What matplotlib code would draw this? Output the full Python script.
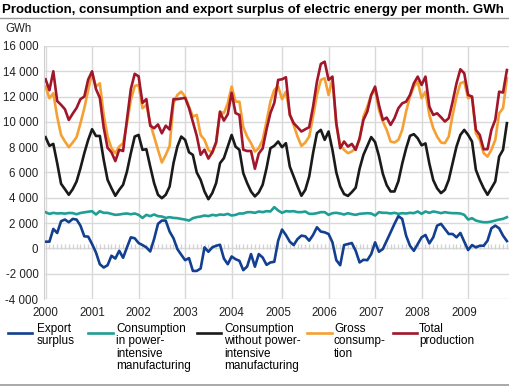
import numpy as np
import matplotlib
matplotlib.use("Agg")
import matplotlib.pyplot as plt
from matplotlib.lines import Line2D
from matplotlib.ticker import FuncFormatter

plt.rcParams['font.family'] = ['Liberation Sans', 'DejaVu Sans']

# monthly values Jan 2000 - Dec 2009, GWh
export_surplus = [
    530, 530, 1540, 1220, 2150, 2280, 2070, 2330, 2280, 1800, 955, 930,
    345, -320, -1250, -1510, -1330, -580, -800, -190, -740, 80, 875, 800,
    425, 265, 80, -240, 740, 1940, 2200, 2200, 1330, 800, -50, -500,
    -930, -770, -1780, -1780, -1590, 80, -265, 80, 210, 290, -800, -1250,
    -640, -850, -980, -1720, -1430, -450, -1445, -450, -720, -1300, -1110, -1060,
    610, 1490, 1060, 530, 265, 740, 1010, 955, 610, 1060, 1670, 1330,
    1270, 1140, 480, -930, -1330, 265, 345, 425, -190, -1110, -900, -930,
    -450, 480, -265, -50, 610, 1270, 1940, 2550, 2330, 1010, 210, -190,
    345, 875, 1060, 400, 875, 1800, 1940, 1540, 1140, 1140, 875, 1220,
    530, -130, 265, 80, 210, 210, 610, 1590, 1800, 1590, 1010, 580,
]
power_intensive = [
    2860, 2730, 2810, 2760, 2780, 2750, 2800, 2790, 2700, 2800, 2850, 2900,
    2940, 2680, 2940, 2810, 2810, 2730, 2650, 2680, 2730, 2760, 2700, 2760,
    2650, 2410, 2650, 2550, 2680, 2550, 2520, 2410, 2470, 2410, 2390, 2330,
    2280, 2200, 2390, 2470, 2520, 2600, 2550, 2650, 2600, 2680, 2650, 2730,
    2600, 2650, 2760, 2760, 2860, 2865, 2812, 2918, 2865, 2944, 2918, 3263,
    2997, 2812, 2944, 2918, 2944, 2865, 2865, 2918, 2732, 2732, 2785, 2865,
    2865, 2653, 2785, 2812, 2759, 2679, 2785, 2706, 2653, 2732, 2759, 2785,
    2759, 2600, 2865, 2812, 2812, 2759, 2812, 2732, 2785, 2759, 2812, 2785,
    2918, 2732, 2918, 2812, 2918, 2865, 2785, 2865, 2812, 2785, 2785, 2759,
    2653, 2281, 2387, 2202, 2122, 2069, 2069, 2122, 2202, 2281, 2334, 2467,
]
without_power_intensive = [
    8790, 8110, 8260, 6740, 5110, 4680, 4240, 4680, 5290, 6340, 7530, 8580,
    9420, 8890, 8890, 7000, 5420, 4760, 4160, 4630, 5030, 6080, 7530, 8840,
    8970, 7790, 7840, 6470, 5160, 4240, 3970, 4240, 4890, 6740, 8050, 8840,
    8580, 7600, 7390, 6000, 5420, 4500, 3890, 4370, 5160, 6740, 7130, 8050,
    8970, 8050, 7790, 5950, 5160, 4500, 4110, 4420, 5030, 6340, 7920, 8110,
    8450, 8000, 8320, 6470, 5680, 4890, 4160, 4630, 5680, 7530, 9110, 9370,
    8580, 9240, 7790, 6000, 4900, 4300, 4150, 4450, 4800, 6300, 7400, 8100,
    8800, 8400, 7300, 5900, 5000, 4500, 4500, 5300, 6700, 7900, 8900, 9030,
    8700, 8150, 8300, 6700, 5400, 4750, 4370, 4630, 5420, 6740, 8050, 8970,
    9370, 8970, 8450, 6210, 5420, 4760, 4240, 4760, 5290, 7260, 7790, 9900,
]
gross_consumption = [
    12790, 11870, 12260, 10420, 8970, 8450, 8000, 8370, 8790, 9890, 11080, 12530,
    13840, 12790, 13050, 10550, 8840, 7920, 7530, 8050, 8320, 9890, 11740, 12840,
    12920, 11080, 11340, 9890, 8840, 7790, 6790, 7390, 8100, 11470, 12130, 12390,
    12000, 11210, 10420, 10550, 8970, 8580, 7790, 7530, 8320, 10820, 10680, 11470,
    12790, 11600, 11600, 9580, 8840, 8320, 7660, 7920, 8580, 10030, 11600, 12530,
    12790, 11790, 12390, 10680, 9760, 8840, 8100, 8370, 8840, 10420, 12130, 13320,
    13450, 12130, 13370, 9760, 8180, 7790, 7530, 7660, 7920, 8580, 10420, 11210,
    12130, 12530, 10950, 10030, 9370, 8450, 8370, 8580, 9370, 10820, 12000, 12790,
    13180, 11870, 12390, 10550, 9500, 8840, 8370, 8320, 8840, 10550, 12000, 13050,
    13180, 11870, 12000, 9100, 8580, 7530, 7260, 7790, 8580, 10680, 11080, 13450,
]
total_production = [
    13370, 12500, 14000, 11650, 11350, 11000, 10150, 10650, 11100, 11800, 12000, 13350,
    14000, 12600, 11900, 9550, 7950, 7600, 6900, 7800, 7700, 10200, 12600, 13800,
    13600, 11500, 11800, 9700, 9500, 9800, 9100, 9700, 9400, 11800, 11800, 11850,
    11900, 11100, 10000, 8900, 7400, 7800, 7100, 7600, 8400, 10800, 10100, 10600,
    12300, 10700, 10550, 7800, 7700, 7700, 6300, 7500, 7900, 9400, 10700, 11500,
    13320, 13370, 13530, 10550, 9900, 9580, 9240, 9420, 9580, 11200, 13180, 14580,
    14760, 13320, 13580, 9900, 7920, 8450, 8050, 8260, 7790, 8710, 10160, 10820,
    12130, 12790, 11340, 10160, 10340, 9760, 10290, 11080, 11470, 11600, 12130, 13050,
    13580, 12920, 13580, 11210, 10550, 10680, 10370, 10030, 10290, 11600, 13050, 14160,
    13840, 12130, 12000, 9370, 8970, 7840, 7840, 9370, 10160, 12390, 12320, 14100,
]
years = [str(y) for y in range(2000, 2010)]
year_starts = [0, 12, 24, 36, 48, 60, 72, 84, 96, 108]
grid_months = [0, 12, 24, 36, 48, 61, 73, 85, 97, 109]

series = [
    ("Export\nsurplus", export_surplus, "#123f8f"),
    ("Consumption\nin power-\nintensive\nmanufacturing", power_intensive, "#1f9e96"),
    ("Consumption\nwithout power-\nintensive\nmanufacturing", without_power_intensive, "#1a1a1a"),
    ("Gross\nconsump-\ntion", gross_consumption, "#f5a033"),
    ("Total\nproduction", total_production, "#a0162a"),
]

W, H = 510, 386
fig = plt.figure(figsize=(W / 100, H / 100), dpi=100)
ax = fig.add_axes([44 / W, 1 - 299 / H, 1 - 44 / W, (299 - 46) / H])

months = np.arange(len(total_production))
grid_col = "#d9d9d9"

# grid
for y in range(-4000, 16001, 2000):
    ax.axhline(y, color=grid_col, lw=1, zorder=0)
for m in grid_months:
    ax.axvline(m, color=grid_col, lw=1, zorder=0)
ax.vlines(months, -60, 380, color="#d2d2d2", lw=0.9, zorder=0)

for label, vals, col in series:
    ax.plot(months, vals, color=col, lw=1.9, zorder=2, solid_joinstyle="round")

ax.set_xlim(-0.4, 119.8)
ax.set_ylim(-4000, 16000)
ax.set_yticks(range(-4000, 16001, 2000))
ax.yaxis.set_major_formatter(FuncFormatter(lambda v, p: f"{v:,.0f}".replace(",", " ")))
ax.set_xticks(year_starts)
ax.set_xticklabels(years)
ax.tick_params(axis="both", which="both", length=0, labelsize=8.3, colors="#222222")
ax.tick_params(axis="x", pad=6)
ax.tick_params(axis="y", pad=4)
for s in ["top", "right", "bottom"]:
    ax.spines[s].set_visible(False)
ax.spines["left"].set_color("#cfcfcf")

fig.text(2 / W, 1 - 10 / H, "Production, consumption and export surplus of electric energy per month. GWh",
         fontsize=9.5, fontweight="bold", va="center", ha="left")
fig.add_artist(Line2D([0, 1], [1 - 18 / H, 1 - 18 / H], color="#9a9a9a", lw=1))
fig.add_artist(Line2D([0, 1], [1 - 385 / H, 1 - 385 / H], color="#9a9a9a", lw=1.2))
fig.text(5 / W, 1 - 29 / H, "GWh", fontsize=8.3, va="center", ha="left", color="#222222")

# legend drawn by hand
leg_x = [(8, 32, 37), (88, 113, 116), (197, 221, 224), (307, 332, 334), (393, 417, 419)]
for (x0, x1, xt), (label, vals, col) in zip(leg_x, series):
    fig.add_artist(Line2D([x0 / W, x1 / W], [1 - 333 / H, 1 - 333 / H], color=col, lw=1.9))
    fig.text(xt / W, 1 - 323 / H, label, fontsize=8.5, va="top", ha="left", linespacing=1.05)

fig.savefig("out.png", dpi=100)
